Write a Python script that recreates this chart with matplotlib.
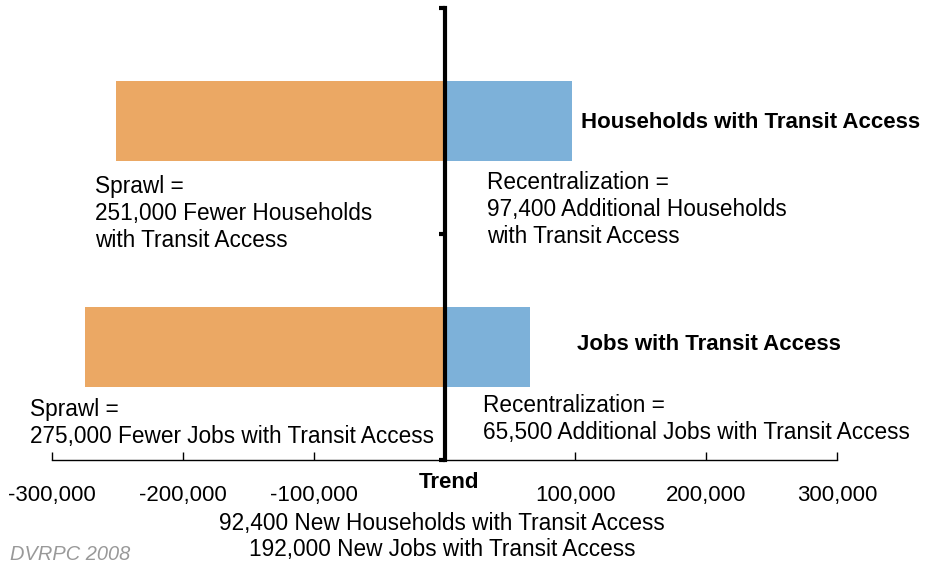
import matplotlib.pyplot as plt

plt.rcParams["font.family"] = ["Liberation Sans", "DejaVu Sans"]

# Data
categories = ["Jobs with Transit Access", "Households with Transit Access"]
sprawl = [-275000, -251000]
recentralization = [65500, 97400]
sprawl_labels = ["Sprawl =\n275,000 Fewer Jobs with Transit Access",
                 "Sprawl =\n251,000 Fewer Households\nwith Transit Access"]
recent_labels = ["Recentralization =\n65,500 Additional Jobs with Transit Access",
                 "Recentralization =\n97,400 Additional Households\nwith Transit Access"]
trend_lines = ["92,400 New Households with Transit Access",
               "192,000 New Jobs with Transit Access"]
xticks = [-300000, -200000, -100000, 0, 100000, 200000, 300000]
xticklabels = ["-300,000", "-200,000", "-100,000", "", "100,000", "200,000", "300,000"]

W, H = 927, 565
fig = plt.figure(figsize=(W / 100, H / 100), dpi=100)
ax = fig.add_axes([52 / W, 1 - 460 / H, 785 / W, 452 / H])

ypos = [0.5, 1.5]
ax.barh(ypos, sprawl, height=0.354, color="#EBA864")
ax.barh(ypos, recentralization, height=0.354, color="#7DB1D9")

ax.set_xlim(-300000, 300000)
ax.set_ylim(0, 2)
ax.set_xticks(xticks)
ax.set_xticklabels(xticklabels, fontsize=16)
ax.tick_params(axis="x", direction="in", length=6, width=1, pad=18)
ax.set_yticks([0, 1, 2])
ax.set_yticklabels([])
ax.tick_params(axis="y", direction="out", length=4, width=3)

for s in ["top", "right"]:
    ax.spines[s].set_visible(False)
ax.spines["left"].set_position(("data", 0))
ax.spines["left"].set_linewidth(3)
ax.spines["left"].set_zorder(5)
ax.spines["bottom"].set_linewidth(1)


def ftext(px, py, s, **kw):
    fig.text(px / W, 1 - py / H, s, **kw)


fs = 16.3
ls = 1.23
ftext(95, 175, sprawl_labels[1], fontsize=fs, va="top", linespacing=ls)
ftext(487, 171, recent_labels[1], fontsize=fs, va="top", linespacing=ls)
ftext(30, 398, sprawl_labels[0], fontsize=fs, va="top", linespacing=ls)
ftext(483, 394, recent_labels[0], fontsize=fs, va="top", linespacing=ls)
ftext(581, 122, categories[1], fontsize=16, fontweight="bold", va="center")
ftext(577, 344, categories[0], fontsize=16, fontweight="bold", va="center")
ftext(449, 483, "Trend", fontsize=16, fontweight="bold", ha="center", va="center")
ftext(442, 512, trend_lines[0], fontsize=fs, ha="center", va="top")
ftext(442, 538, trend_lines[1], fontsize=fs, ha="center", va="top")
ftext(10, 555, "DVRPC 2008", fontsize=14.4, color="#999999", style="italic", va="center")

fig.savefig("out.png", dpi=100)
